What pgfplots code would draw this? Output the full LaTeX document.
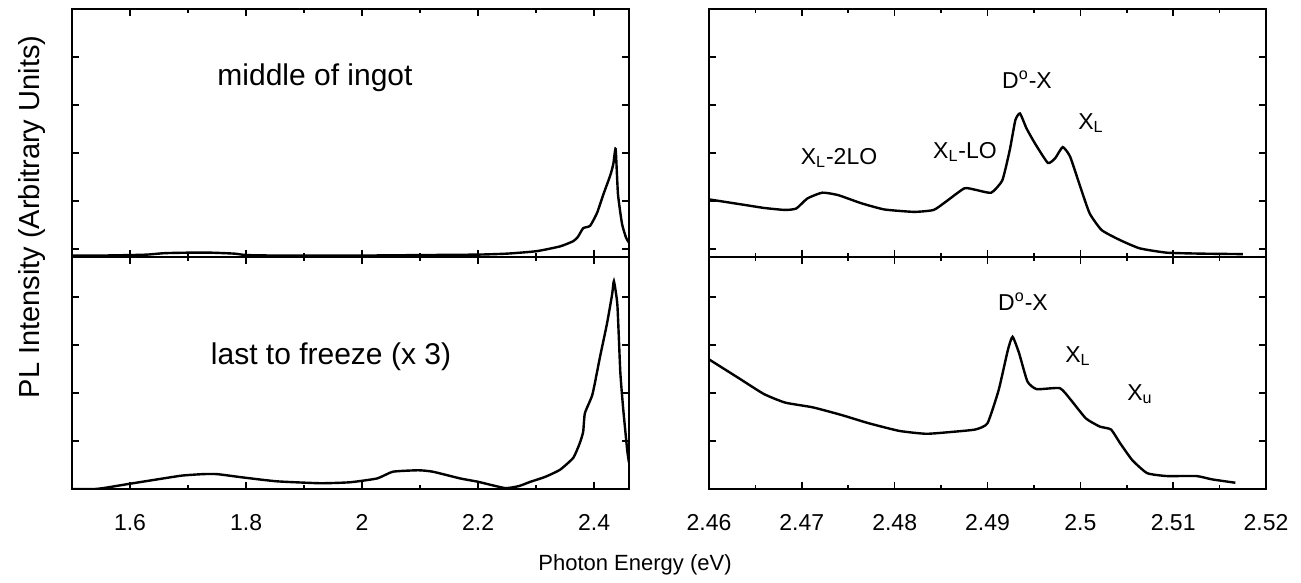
\documentclass[border=0pt]{standalone}
\usepackage{fontspec}
\setmainfont{Liberation Sans}
\usepackage{pgfplots}
\pgfplotsset{compat=1.18}
\pgfplotsset{
  panel/.style={scale only axis, width=278.5pt,
    axis line style={line width=1pt},
    major tick length=3.5pt, minor tick length=2pt,
    every tick/.style={line width=0.8pt, black},
    yticklabels={},
    /pgf/number format/assume math mode=true,
    ticklabel style={font=\fontsize{11.5}{13}\selectfont},
    xticklabel style={anchor=base, yshift=-21pt},
    every axis plot post/.append style={black, line width=1.2pt, smooth, tension=0.3, mark=none}},
  toppanel/.style={height=124pt, ymin=0, ymax=5.1667,
    ytick={0.1667,1.1667,2.1667,3.1667,4.1667}, xticklabels={}},
  botpanel/.style={height=116pt, ymin=0, ymax=4.833, ytick={1,2,3,4}},
  leftpanel/.style={xmin=1.5, xmax=2.46, xtick={1.6,1.8,2,2.2,2.4}, minor x tick num=1},
  rightpanel/.style={xmin=2.46, xmax=2.52, xtick={2.46,2.47,2.48,2.49,2.5,2.51,2.52}, minor x tick num=1},
}
\begin{document}
\begin{tikzpicture}
\useasboundingbox (0,0) rectangle (650.5pt,291.5pt);
% left top: middle of ingot
\begin{axis}[panel, toppanel, leftpanel, at={(36pt,163pt)}, anchor=south west]
\addplot coordinates {(1.5,0.03)(1.55,0.03)(1.6,0.04)(1.63,0.05)(1.66,0.08)(1.70,0.09)(1.74,0.09)(1.78,0.07)(1.80,0.04)(1.85,0.03)(1.9,0.03)(2.0,0.03)(2.1,0.04)(2.2,0.05)(2.25,0.07)(2.3,0.12)(2.341,0.22)(2.364,0.33)(2.372,0.42)(2.381,0.60)(2.393,0.65)(2.405,0.92)(2.416,1.31)(2.428,1.71)(2.433,1.94)(2.437,2.25)(2.441,1.31)(2.448,0.69)(2.455,0.40)(2.46,0.30)};
\end{axis}
% left bottom: last to freeze
\begin{axis}[panel, botpanel, leftpanel, at={(36pt,47pt)}, anchor=south west]
\addplot coordinates {(1.5,0.0)(1.54,0.0)(1.56,0.03)(1.595,0.10)(1.652,0.21)(1.69,0.28)(1.726,0.31)(1.75,0.31)(1.795,0.24)(1.853,0.16)(1.928,0.12)(1.979,0.14)(2.026,0.22)(2.053,0.36)(2.097,0.39)(2.122,0.36)(2.169,0.22)(2.2,0.15)(2.246,0.02)(2.27,0.06)(2.29,0.15)(2.315,0.25)(2.341,0.40)(2.364,0.65)(2.375,0.95)(2.381,1.19)(2.384,1.58)(2.397,1.97)(2.41,2.75)(2.422,3.44)(2.431,4.06)(2.434,4.33)(2.44,3.83)(2.445,2.44)(2.45,1.67)(2.457,0.80)(2.46,0.55)};
\end{axis}
% right top
\begin{axis}[panel, toppanel, rightpanel, at={(354.5pt,163pt)}, anchor=south west]
\addplot coordinates {(2.4600,1.20)(2.4620,1.14)(2.4640,1.08)(2.4660,1.02)(2.4682,0.98)(2.4694,1.01)(2.4706,1.22)(2.4722,1.34)(2.4739,1.29)(2.4764,1.12)(2.4789,0.99)(2.4821,0.94)(2.4842,0.98)(2.4855,1.15)(2.4875,1.43)(2.4887,1.40)(2.4904,1.34)(2.4916,1.60)(2.4924,2.23)(2.4930,2.85)(2.4935,2.99)(2.4942,2.68)(2.4951,2.37)(2.4965,1.96)(2.4973,2.06)(2.4981,2.29)(2.4989,2.09)(2.5000,1.46)(2.5010,0.91)(2.5023,0.56)(2.5043,0.35)(2.5064,0.18)(2.5093,0.09)(2.5130,0.07)(2.5175,0.06)};
\end{axis}
% right bottom
\begin{axis}[panel, botpanel, rightpanel, at={(354.5pt,47pt)}, anchor=south west]
\addplot coordinates {(2.4600,2.70)(2.4632,2.31)(2.4659,1.98)(2.4682,1.80)(2.4712,1.70)(2.4743,1.54)(2.4772,1.37)(2.4805,1.21)(2.4834,1.15)(2.4862,1.19)(2.4887,1.24)(2.4900,1.37)(2.4912,2.06)(2.4922,2.90)(2.4927,3.17)(2.4934,2.83)(2.4943,2.24)(2.4953,2.08)(2.4978,2.10)(2.4990,1.85)(2.5006,1.47)(2.5021,1.30)(2.5033,1.24)(2.5043,0.95)(2.5056,0.60)(2.5072,0.33)(2.5093,0.27)(2.5125,0.27)(2.5142,0.20)(2.5167,0.13)};
\end{axis}
% texts
\node[font=\fontsize{15}{17}\selectfont] at (157.5pt,252.75pt) {middle of ingot};
\node[font=\fontsize{15}{17}\selectfont] at (165.5pt,113.25pt) {last to freeze (x 3)};
\node[font=\fontsize{14.5}{16}\selectfont, rotate=90] at (16pt,183pt) {PL Intensity (Arbitrary Units)};
\node[font=\fontsize{11}{13}\selectfont] at (317.5pt,9pt) {Photon Energy (eV)};
\begin{scope}[every node/.style={font=\fontsize{11.5}{13}\selectfont}]
\node at (419.5pt,212.5pt) {X\textsubscript{L}-2LO};
\node at (482.5pt,215.5pt) {X\textsubscript{L}-LO};
\node at (513.5pt,251.5pt) {D\textsuperscript{o}-X};
\node at (545.5pt,230pt) {X\textsubscript{L}};
\node at (511.5pt,140.5pt) {D\textsuperscript{o}-X};
\node at (539pt,113.5pt) {X\textsubscript{L}};
\node at (570pt,94.5pt) {X\textsubscript{u}};
\end{scope}
\end{tikzpicture}
\end{document}
